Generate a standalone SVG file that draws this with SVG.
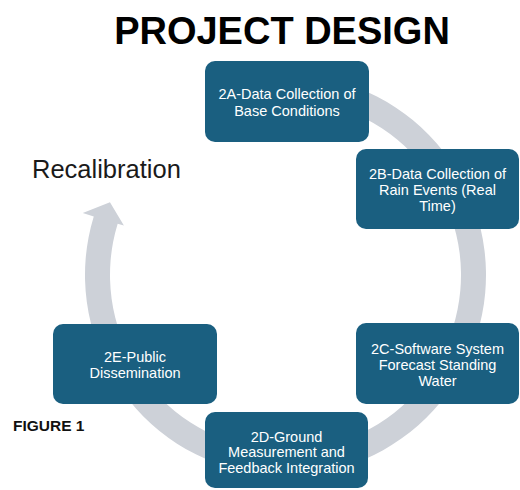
<svg xmlns="http://www.w3.org/2000/svg" width="520" height="490" viewBox="0 0 520 490">
<style>
.node{fill:#1a5f80;}
.nt{fill:#ffffff;font-family:"Liberation Sans",Arial,sans-serif;font-size:14.5px;text-anchor:middle;}
.ring{fill:#cdd1d8;}
</style>
<rect width="520" height="490" fill="#ffffff"/>
<text x="282" y="43.5" font-family="Liberation Sans,Arial,sans-serif" font-weight="bold" font-size="38" text-anchor="middle" fill="#000000">PROJECT DESIGN</text>
<text x="32" y="177.5" font-family="Liberation Sans,Arial,sans-serif" font-size="25.5" fill="#1a1a1a">Recalibration</text>
<text x="13" y="431" font-family="Liberation Sans,Arial,sans-serif" font-weight="bold" font-size="15.5" fill="#111111">FIGURE 1</text>
<g id="connectors">
<path class="ring" d="M 250.68 77.55 A 200.5 200.5 0 1 1 93.76 216.38 L 82.76 213.02 L 109.96 202.29 L 123.89 225.59 L 117.67 223.69 A 175.5 175.5 0 1 0 255.02 102.17 Z"/>
</g>
<g id="node-2A">
<rect class="node" x="205" y="61" width="164" height="81" rx="10"/>
<text class="nt" x="287" y="99">2A-Data Collection of</text>
<text class="nt" x="287" y="115.5">Base Conditions</text>
</g>
<g id="node-2B">
<rect class="node" x="356" y="149" width="163" height="80" rx="10"/>
<text class="nt" x="437.5" y="178.5">2B-Data Collection of</text>
<text class="nt" x="437.5" y="194.5">Rain Events (Real</text>
<text class="nt" x="437.5" y="210.5">Time)</text>
</g>
<g id="node-2C">
<rect class="node" x="356" y="323" width="163" height="81" rx="10"/>
<text class="nt" x="437.5" y="353.5">2C-Software System</text>
<text class="nt" x="437.5" y="369.5">Forecast Standing</text>
<text class="nt" x="437.5" y="385.5">Water</text>
</g>
<g id="node-2D">
<rect class="node" x="205" y="412" width="163" height="76" rx="10"/>
<text class="nt" x="286.5" y="441.5">2D-Ground</text>
<text class="nt" x="286.5" y="457">Measurement and</text>
<text class="nt" x="286.5" y="472.5">Feedback Integration</text>
</g>
<g id="node-2E">
<rect class="node" x="53" y="324" width="164" height="80" rx="10"/>
<text class="nt" x="135" y="362">2E-Public</text>
<text class="nt" x="135" y="378">Dissemination</text>
</g>
</svg>
